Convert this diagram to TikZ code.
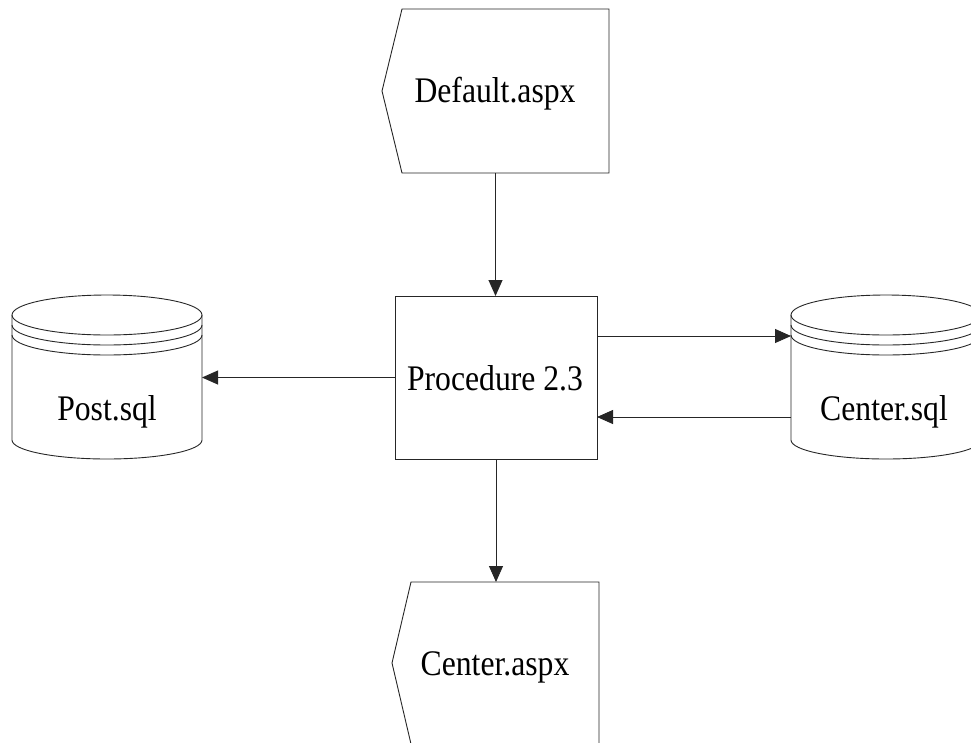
\documentclass[tikz,border=0pt]{standalone}
\usepackage{fontspec}
\newfontfamily\lblfont[FakeStretch=0.88]{Liberation Serif}
\usetikzlibrary{arrows.meta,calc}
\begin{document}
\begin{tikzpicture}[x=1pt,y=-1pt,
  line width=0.9pt,
  shapebox/.style={inner sep=0pt, outer sep=0pt},
  outline/.style={draw=black!85, line width=0.9pt},
  lbl/.style={inner sep=0pt, anchor=base, font=\lblfont\fontsize{36}{40}\selectfont},
  arr/.style={draw=black!85, line width=0.9pt, -{Triangle[length=16pt,width=14pt]}}]
\useasboundingbox (0,0) rectangle (971,742);
\clip (0,0) rectangle (971,742);
% Default.aspx (display shape)
\node[shapebox, minimum width=227pt, minimum height=164pt] (def) at (495.5,91) {};
\draw[outline] ($(def.north west)+(20,0)$) -- (def.north east) -- (def.south east)
  -- ($(def.south west)+(20,0)$) -- (def.west) -- cycle;
\node[lbl] (deft) at (495,102) {Default.aspx};
% Procedure 2.3
\node[shapebox, draw=black!85, minimum width=202pt, minimum height=163pt] (proc) at (496,377.5) {};
\node[lbl] (proct) at (495,390) {Procedure 2.3};
% Center.aspx (display shape)
\node[shapebox, minimum width=207pt, minimum height=162pt] (cas) at (495.5,663) {};
\draw[outline] ($(cas.north west)+(19,0)$) -- (cas.north east) -- (cas.south east)
  -- ($(cas.south west)+(19,0)$) -- (cas.west) -- cycle;
\node[lbl] (cast) at (495,675) {Center.aspx};
% Post.sql cylinder
\node[shapebox, minimum width=190pt, minimum height=164pt] (post) at (107,377) {};
\draw[outline] ($(post.north)+(0,20)$) ellipse [x radius=95pt, y radius=20pt];
\draw[outline] ($(post.north west)+(0,30)$) arc[start angle=180, end angle=360, x radius=95pt, y radius=20pt];
\draw[outline] ($(post.north west)+(0,40)$) arc[start angle=180, end angle=360, x radius=95pt, y radius=20pt];
\draw[outline] ($(post.north west)+(0,20)$) -- ($(post.north west)+(0,145)$)
  arc[start angle=180, end angle=360, x radius=95pt, y radius=19pt]
  -- ($(post.north east)+(0,20)$);
\node[lbl] (postt) at (107,420) {Post.sql};
% Center.sql cylinder
\node[shapebox, minimum width=190pt, minimum height=164pt] (csql) at (886,377) {};
\draw[outline] ($(csql.north)+(0,20)$) ellipse [x radius=95pt, y radius=20pt];
\draw[outline] ($(csql.north west)+(0,30)$) arc[start angle=180, end angle=360, x radius=95pt, y radius=20pt];
\draw[outline] ($(csql.north west)+(0,40)$) arc[start angle=180, end angle=360, x radius=95pt, y radius=20pt];
\draw[outline] ($(csql.north west)+(0,20)$) -- ($(csql.north west)+(0,145)$)
  arc[start angle=180, end angle=360, x radius=95pt, y radius=19pt]
  -- ($(csql.north east)+(0,20)$);
\node[lbl] (csqlt) at (884,420) {Center.sql};
% connectors
\draw[arr] (def.south) -- (def.south |- proc.north);
\draw[arr] (proc.west) -- (proc.west -| post.east);
\coordinate (pa) at ([yshift=41.5pt]proc.east);
\coordinate (pb) at ([yshift=-39.5pt]proc.east);
\draw[arr] (pa) -- (pa -| csql.west);
\draw[arr] (pb -| csql.west) -- (pb);
\draw[arr] (proc.south) -- (proc.south |- cas.north);
\end{tikzpicture}
\end{document}
